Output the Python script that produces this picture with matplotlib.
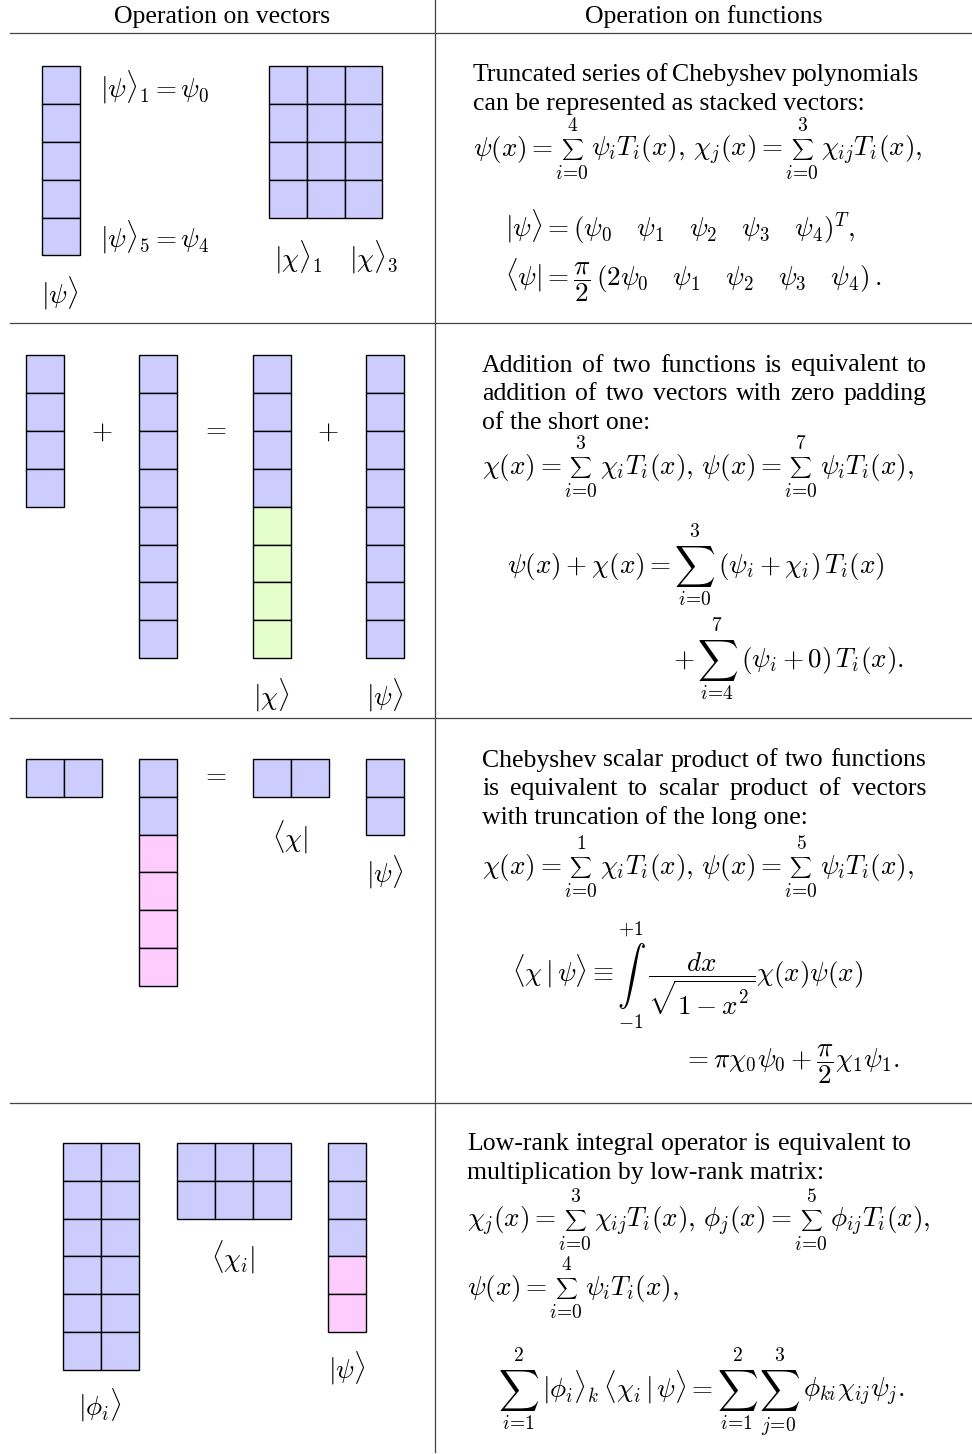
import matplotlib
matplotlib.use('Agg')
import matplotlib.pyplot as plt
from matplotlib.patches import Rectangle

plt.rcParams['font.family'] = ['Liberation Serif', 'DejaVu Serif']
plt.rcParams['mathtext.fontset'] = 'cm'

W, H = 972, 1454
FS_T = 18.5    # body text
FS_M = 19.5    # formulas
CELL = 37.9
AXIS = 6.5

COLORS = {'b': '#ccccff', 'g': '#e5ffcc', 'm': '#ffccff'}

# cell fills, one string per row (top row first)
r1_psi = ["b", "b", "b", "b", "b"]
r1_chi = ["bbb", "bbb", "bbb", "bbb"]
r2_chi = ["b", "b", "b", "b"]
r2_psi = ["b", "b", "b", "b", "b", "b", "b", "b"]
r2_chi_pad = ["b", "b", "b", "b", "g", "g", "g", "g"]
r2_psi_res = ["b", "b", "b", "b", "b", "b", "b", "b"]
r3_chi = ["bb"]
r3_psi = ["b", "b", "m", "m", "m", "m"]
r3_chi_res = ["bb"]
r3_psi_res = ["b", "b"]
r4_phi = ["bb", "bb", "bb", "bb", "bb", "bb"]
r4_chi = ["bbb", "bbb"]
r4_psi = ["b", "b", "b", "m", "m"]

headers = ["Operation on vectors", "Operation on functions"]
par1 = ["Truncated series of Chebyshev polynomials",
        "can be represented as stacked vectors:"]
par2 = ["Addition of two functions is equivalent to",
        "addition of two vectors with zero padding",
        "of the short one:"]
par3 = ["Chebyshev scalar product of two functions",
        "is equivalent to scalar product of vectors",
        "with truncation of the long one:"]
par4 = ["Low-rank integral operator is equivalent to",
        "multiplication by low-rank matrix:"]

fig = plt.figure(figsize=(W / 100, H / 100), dpi=100)
ax = fig.add_axes([0, 0, 1, 1])
ax.set_xlim(0, W)
ax.set_ylim(H, 0)
ax.axis('off')
R = fig.canvas.get_renderer()


def width_of(t):
    return t.get_window_extent(renderer=R).width


def draw_grid(x0, y0, rows):
    for i, row in enumerate(rows):
        for j, c in enumerate(row):
            ax.add_patch(Rectangle((x0 + j * CELL, y0 + i * CELL), CELL, CELL,
                                   fc=COLORS[c], ec='black', lw=1.0))


def label(x, y, s, ha='center'):
    ax.text(x, y, s, fontsize=FS_M, ha=ha, va='center')


def paragraph(x0, x1, y0, lines, step=28.8):
    # all lines but the last are justified between x0 and x1
    for k, line in enumerate(lines):
        y = y0 + k * step
        if k == len(lines) - 1:
            ax.text(x0, y, line, fontsize=FS_T, va='baseline')
            continue
        words = line.split()
        ts = [ax.text(x0, y, w, fontsize=FS_T, va='baseline') for w in words]
        ws = [width_of(t) for t in ts]
        gap = max(4.5, (x1 - x0 - sum(ws)) / (len(words) - 1))
        x = x0
        for t, w in zip(ts, ws):
            t.set_x(x)
            x += w + gap


def big_op(x, base, sym, lo, hi, scale, pads):
    t = ax.text(x, base - AXIS, sym, fontsize=FS_M * scale, va='center')
    bb = t.get_window_extent(renderer=R)
    th = ax.text(x, H - bb.y1 - pads[0], hi, fontsize=FS_M * 0.72, ha='center', va='bottom')
    tl = ax.text(x, H - bb.y0 + pads[1], lo, fontsize=FS_M * 0.72, ha='center', va='top')
    w = bb.width
    total = max(w, width_of(th), width_of(tl))
    t.set_x(x + (total - w) / 2)
    th.set_x(x + total / 2)
    tl.set_x(x + total / 2)
    return total


def small_sum(lo, hi):
    return (r'$\sum$', '$' + lo + '$', '$' + hi + '$', 0.56, (2, 3))


def big_sum(lo, hi):
    return (r'$\sum$', '$' + lo + '$', '$' + hi + '$', 1.04, (3, 2))


def math_line(x, base, parts):
    for p in parts:
        if isinstance(p, (int, float)):
            x += p
        elif isinstance(p, tuple):
            x += big_op(x, base, *p)
        else:
            t = ax.text(x, base, p, fontsize=FS_M, va='baseline')
            x += width_of(t)


# table rules
for y in [33, 323, 718, 1103]:
    ax.plot([10, W], [y, y], color='#444444', lw=0.9)
ax.plot([435, 435], [0, 1452], color='#444444', lw=0.9)
ax.text(222, 23, headers[0], fontsize=FS_T, ha='center', va='baseline')
ax.text(704, 23, headers[1], fontsize=FS_T, ha='center', va='baseline')

# row 1
draw_grid(41.7, 66, r1_psi)
draw_grid(268.7, 66, r1_chi)
label(100, 87, r'$|\psi\rangle_1=\psi_0$', ha='left')
label(100, 237, r'$|\psi\rangle_5=\psi_4$', ha='left')
label(60, 293, r'$|\psi\rangle$')
label(274, 257, r'$|\chi\rangle_1$', ha='left')
label(349, 257, r'$|\chi\rangle_3$', ha='left')

paragraph(473, 919, 81, par1)
math_line(473, 156, [r'$\psi(x)=$', 2, small_sum(r'i\!=\!0', '4'), 2,
                     r'$\psi_iT_i(x),\,\chi_j(x)=$', 2, small_sum(r'i\!=\!0', '3'), 2,
                     r'$\chi_{ij}T_i(x),$'])
math_line(505, 237, [r'$|\psi\rangle=(\psi_0\quad\psi_1\quad\psi_2\quad\psi_3\quad\psi_4)^T,$'])
math_line(505, 286, [r'$\langle\psi|=\dfrac{\pi}{2}\,(2\psi_0\quad\psi_1\quad\psi_2\quad\psi_3\quad\psi_4)\,.$'])

# row 2
draw_grid(25.7, 355, r2_chi)
draw_grid(139.3, 355, r2_psi)
draw_grid(252.7, 355, r2_chi_pad)
draw_grid(366.3, 355, r2_psi_res)
label(101.7, 432, r'$+$')
label(214, 430, r'$=$')
label(328, 432, r'$+$')
label(271.7, 695, r'$|\chi\rangle$')
label(385, 695, r'$|\psi\rangle$')

paragraph(482, 927, 371.5, par2)
math_line(482, 474, [r'$\chi(x)=$', 2, small_sum(r'i\!=\!0', '3'), 2,
                     r'$\chi_iT_i(x),\,\psi(x)=$', 2, small_sum(r'i\!=\!0', '7'), 2,
                     r'$\psi_iT_i(x),$'])
math_line(506.7, 573, [r'$\psi(x)+\chi(x)=$', 3, big_sum(r'i\!=\!0', '3'), 3,
                       r'$(\psi_i+\chi_i)\,T_i(x)$'])
math_line(673, 667, [r'$+$', 2, big_sum(r'i\!=\!4', '7'), 3,
                     r'$(\psi_i+0)\,T_i(x).$'])

# row 3
draw_grid(25.7, 758.7, r3_chi)
draw_grid(139.3, 758.7, r3_psi)
draw_grid(252.7, 758.7, r3_chi_res)
draw_grid(366.3, 758.7, r3_psi_res)
label(214, 776, r'$=$')
label(290.3, 837, r'$\langle\chi|$')
label(385, 872, r'$|\psi\rangle$')

paragraph(482, 926, 766.5, par3)
math_line(482, 874, [r'$\chi(x)=$', 2, small_sum(r'i\!=\!0', '1'), 2,
                     r'$\chi_iT_i(x),\,\psi(x)=$', 2, small_sum(r'i\!=\!0', '5'), 2,
                     r'$\psi_iT_i(x),$'])
math_line(511.7, 982, [r'$\langle\chi\,|\,\psi\rangle\equiv$', 3,
                       (r'$\int$', r'$-1$', r'$+1$', 1.05, (2, 3)), 3,
                       r'$\dfrac{dx}{\sqrt{1-x^2}}\chi(x)\psi(x)$'])
math_line(683, 1068, [r'$=\pi\chi_0\psi_0+\dfrac{\pi}{2}\chi_1\psi_1.$'])

# row 4
draw_grid(63.3, 1142.7, r4_phi)
draw_grid(177, 1142.7, r4_chi)
draw_grid(328.3, 1142.7, r4_psi)
label(100, 1405, r'$|\phi_i\rangle$')
label(233, 1257, r'$\langle\chi_i|$')
label(346.7, 1368, r'$|\psi\rangle$')

paragraph(467, 912, 1150, par4)
math_line(467, 1227, [r'$\chi_j(x)=$', 2, small_sum(r'i\!=\!0', '3'), 2,
                      r'$\chi_{ij}T_i(x),\,\phi_j(x)=$', 2, small_sum(r'i\!=\!0', '5'), 2,
                      r'$\phi_{ij}T_i(x),$'])
math_line(467, 1295, [r'$\psi(x)=$', 2, small_sum(r'i\!=\!0', '4'), 2, r'$\psi_iT_i(x),$'])
math_line(498, 1397, [big_sum(r'i\!=\!1', '2'), 3,
                      r'$|\phi_i\rangle_k\,\langle\chi_i\,|\,\psi\rangle=$', 3,
                      big_sum(r'i\!=\!1', '2'), 1,
                      big_sum(r'j\!=\!0', '3'), 3,
                      r'$\phi_{ki}\chi_{ij}\psi_j.$'])

fig.savefig('out.png', dpi=100)
